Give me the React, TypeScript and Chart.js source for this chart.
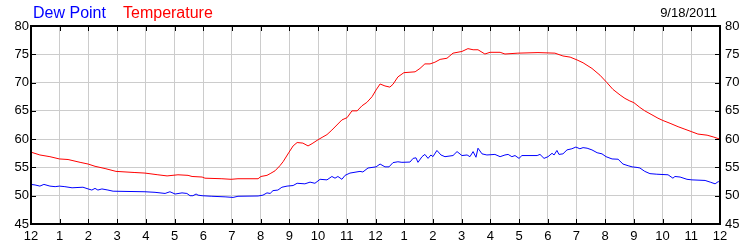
import React, { useEffect, useRef } from "react";
import { Chart, registerables } from "chart.js";

Chart.register(...registerables);

const chartDate = "9/18/2011";
const seriesNames = ["Dew Point", "Temperature"];
const seriesColors = ["#0000ff", "#ff0000"];
const yMin = 45;
const yMax = 80;
const yStep = 5;
const hourMin = 0;
const hourMax = 24;

// hours since midnight
const tempHours = [
  0, 0.31, 0.66, 0.99, 1.29, 1.71, 1.99, 2.23, 2.58, 2.96, 3.62, 3.97, 4.42, 4.74, 5.12, 5.47, 5.61,
  5.96, 6.06, 6.65, 6.97, 7.21, 7.91, 8.01, 8.22, 8.33, 8.5, 8.67, 8.78, 8.99, 9.13, 9.27, 9.47, 9.65,
  9.79, 10.0, 10.17, 10.31, 10.48, 10.83, 11.01, 11.18, 11.36, 11.53, 11.7, 11.88, 12.02, 12.16, 12.33,
  12.5, 12.61, 12.78, 12.99, 13.38, 13.55, 13.72, 13.9, 14.07, 14.25, 14.49, 14.7, 15.01, 15.22, 15.4,
  15.57, 15.81, 15.99, 16.34, 16.51, 16.96, 17.66, 18.25, 18.53, 18.78, 19.02, 19.23, 19.54, 19.82,
  20.06, 20.27, 20.52, 20.69, 20.86, 21.0, 21.21, 21.38, 21.63, 21.84, 22.01, 22.26, 22.54, 22.78,
  23.02, 23.23, 23.55, 23.76, 24.0,
];
const tempValues = [
  57.7, 57.2, 56.9, 56.5, 56.4, 55.9, 55.6, 55.2, 54.8, 54.3, 54.1, 54.0, 53.7, 53.5, 53.7, 53.6, 53.4,
  53.3, 53.1, 53.0, 52.9, 53.0, 53.0, 53.4, 53.6, 53.9, 54.4, 55.3, 56.0, 57.7, 58.8, 59.4, 59.3, 58.8,
  59.2, 59.9, 60.4, 60.8, 61.6, 63.4, 63.8, 65.0, 65.0, 65.9, 66.5, 67.5, 68.7, 69.75, 69.4,
  69.2, 69.7, 71.0, 71.75, 71.9, 72.5, 73.3, 73.3, 73.6, 74.1, 74.3, 75.2, 75.5, 76.0, 75.8,
  75.8, 75.05, 75.35, 75.35, 75.05, 75.2, 75.3, 75.2, 74.7, 74.5, 74.0, 73.5, 72.5, 71.3,
  70.0, 68.8, 67.8, 67.2, 66.75, 66.45, 65.6, 65.0, 64.3, 63.7, 63.3, 62.8, 62.2, 61.75,
  61.3, 60.9, 60.7, 60.4, 60.0,
];

const dewHours = [
  0, 0.14, 0.31, 0.45, 0.66, 0.84, 0.99, 1.18, 1.43, 1.81, 1.99, 2.12, 2.23, 2.33, 2.47, 2.68, 2.86,
  3.97, 4.32, 4.67, 4.84, 5.02, 5.26, 5.43, 5.54, 5.64, 5.75, 5.82, 5.96, 6.3, 6.76, 7.04, 7.21, 7.91,
  8.08, 8.22, 8.33, 8.43, 8.6, 8.74, 8.92, 9.13, 9.27, 9.54, 9.72, 9.89, 10.07, 10.31, 10.48, 10.59,
  10.69, 10.83, 10.94, 11.11, 11.46, 11.56, 11.74, 12.02, 12.16, 12.33, 12.47, 12.61, 12.78, 12.92,
  13.2, 13.31, 13.41, 13.48, 13.62, 13.72, 13.83, 13.93, 14.0, 14.14, 14.28, 14.42, 14.7, 14.84,
  15.01, 15.19, 15.29, 15.4, 15.5, 15.57, 15.71, 15.88, 16.16, 16.34, 16.51, 16.62, 16.75, 16.86,
  17.0, 17.1, 17.63, 17.73, 17.87, 18.01, 18.15, 18.22, 18.32, 18.39, 18.53, 18.67, 18.84, 18.98,
  19.12, 19.23, 19.37, 19.54, 19.72, 19.89, 20.03, 20.24, 20.45, 20.62, 20.8, 20.94, 21.11, 21.21,
  21.38, 21.56, 21.8, 22.19, 22.36, 22.43, 22.61, 22.85, 23.02, 23.48, 23.66, 23.83, 23.94, 24.0,
];
const dewValues = [
  52.0, 51.9, 51.7, 52.0, 51.7, 51.6, 51.7, 51.6, 51.4, 51.5, 51.2, 51.0, 51.3, 51.0, 51.2, 51.0, 50.8,
  50.7, 50.6, 50.4, 50.7, 50.3, 50.5, 50.4, 50.0, 50.0, 50.3, 50.1, 50.0, 49.9, 49.8, 49.7, 49.9, 49.95,
  50.1, 50.5, 50.4, 50.9, 51.0, 51.5, 51.7, 51.8, 52.2, 52.1, 52.4, 52.2, 52.9, 52.8, 53.4, 53.1,
  53.4, 52.9, 53.6, 54.0, 54.3, 54.2, 54.9, 55.1, 55.6, 55.1, 55.1, 55.85, 56.0, 55.9,
  55.95, 56.6, 56.7, 55.9, 56.9, 57.3, 56.6, 57.2, 56.9, 58.0, 57.2, 56.9, 57.1, 57.8,
  57.1, 57.2, 56.9, 57.8, 56.8, 58.4, 57.4, 57.2, 57.3, 56.9, 57.2, 57.3, 56.9, 57.1,
  56.6, 57.1, 57.1, 57.3, 56.6, 56.9, 57.5, 57.2, 58.0, 57.3, 57.4, 58.1, 58.3, 58.6,
  58.3, 58.5, 58.4, 58.1, 57.6, 57.4, 56.9, 56.5, 56.45, 55.6, 55.3, 55.1, 55.0, 54.9,
  54.3, 53.9, 53.8, 53.7, 53.1, 53.4, 53.3, 52.9, 52.8, 52.7, 52.4, 52.1, 52.5, 52.3,
];

const hourLabel = (h: number) => String(h % 12 === 0 ? 12 : h % 12);

const FONT = '"Liberation Sans", Arial, sans-serif';

const framePlugin = {
  id: "frame",
  afterDraw(chart: any) {
    const { ctx, chartArea } = chart;
    const { left, right, top, bottom } = chartArea;
    const xs = chart.scales.x;
    const ys = chart.scales.y;
    ctx.save();
    ctx.strokeStyle = "#000";
    ctx.lineWidth = 1;
    ctx.beginPath();
    xs.ticks.forEach((t: any) => {
      const px = Math.round(xs.getPixelForValue(t.value)) + 0.5;
      ctx.moveTo(px, top);
      ctx.lineTo(px, top + 5);
      ctx.moveTo(px, bottom);
      ctx.lineTo(px, bottom - 5);
    });
    ys.ticks.forEach((t: any) => {
      const py = Math.round(ys.getPixelForValue(t.value)) + 0.5;
      ctx.moveTo(left, py);
      ctx.lineTo(left + 5, py);
      ctx.moveTo(right, py);
      ctx.lineTo(right - 5, py);
    });
    ctx.stroke();
    ctx.lineWidth = 2;
    ctx.strokeRect(left, top, right - left, bottom - top);

    ctx.textBaseline = "alphabetic";
    ctx.textAlign = "left";
    ctx.font = `16px ${FONT}`;
    ctx.fillStyle = seriesColors[0];
    ctx.fillText(seriesNames[0], 33, 18);
    ctx.fillStyle = seriesColors[1];
    ctx.fillText(seriesNames[1], 123, 18);
    ctx.font = `13px ${FONT}`;
    ctx.fillStyle = "#000";
    ctx.textAlign = "right";
    ctx.fillText(chartDate, 717, 17);
    ctx.restore();
  },
};

export default function App() {
  const ref = useRef<HTMLCanvasElement>(null);
  useEffect(() => {
    if (!ref.current) return;
    const tickFont = { family: FONT, size: 13 };
    const chart = new Chart(ref.current, {
      type: "line",
      data: {
        datasets: [
          {
            label: seriesNames[0],
            data: dewHours.map((h, i) => ({ x: h, y: dewValues[i] })),
            borderColor: seriesColors[0],
            borderWidth: 1,
            pointRadius: 0,
            tension: 0,
          },
          {
            label: seriesNames[1],
            data: tempHours.map((h, i) => ({ x: h, y: tempValues[i] })),
            borderColor: seriesColors[1],
            borderWidth: 1,
            pointRadius: 0,
            tension: 0,
          },
        ],
      },
      options: {
        responsive: false,
        animation: false,
        devicePixelRatio: 1,
        layout: { padding: { top: 26, left: 0, right: 0, bottom: 0 } },
        plugins: { legend: { display: false }, tooltip: { enabled: false }, title: { display: false } },
        scales: {
          x: {
            type: "linear",
            min: hourMin,
            max: hourMax,
            ticks: { stepSize: 1, callback: (v: any) => hourLabel(Number(v)), color: "#000", font: tickFont, padding: 5, maxRotation: 0, autoSkip: false },
            grid: { color: "#cccccc", lineWidth: 1, drawTicks: false },
            border: { display: false },
            afterFit: (s: any) => { s.height = 26; },
          },
          y: {
            position: "left",
            min: yMin,
            max: yMax,
            ticks: { stepSize: yStep, color: "#000", font: tickFont, padding: 2 },
            grid: { color: "#cccccc", lineWidth: 1, drawTicks: false },
            border: { display: false },
            afterFit: (s: any) => { s.width = 31; },
          },
          y2: {
            position: "right",
            min: yMin,
            max: yMax,
            ticks: { stepSize: yStep, color: "#000", font: tickFont, padding: 5 },
            grid: { display: false, drawTicks: false },
            border: { display: false },
            afterFit: (s: any) => { s.width = 30; },
          },
        },
      },
      plugins: [framePlugin],
    });
    return () => chart.destroy();
  }, []);
  return (
    <div style={{ position: "fixed", left: 0, top: 0, width: 750, height: 250, background: "#fff" }}>
      <canvas ref={ref} width={750} height={250} />
    </div>
  );
}
